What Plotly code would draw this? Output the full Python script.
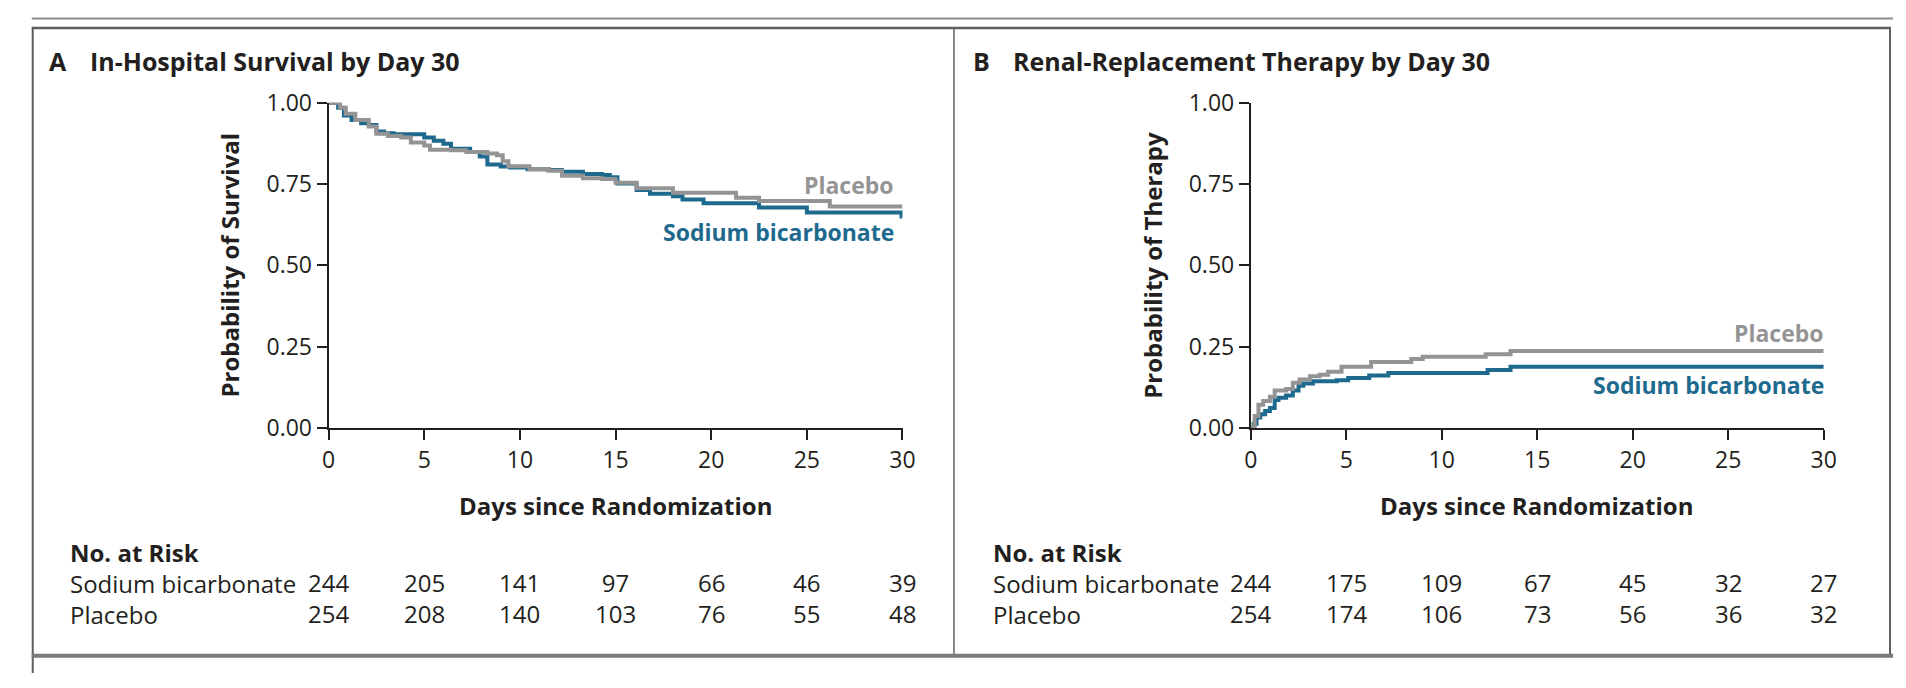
import plotly.graph_objects as go

W, H = 1906, 688

# ---- data ----
days_ticks = [0, 5, 10, 15, 20, 25, 30]
prob_ticks = [0.0, 0.25, 0.5, 0.75, 1.0]
prob_labels = ["0.00", "0.25", "0.50", "0.75", "1.00"]

# A: in-hospital survival
surv_bicarb_t = [0, 0.5, 0.8, 1.2, 1.7, 2.1, 2.5, 2.9, 3.4, 5.0, 5.5, 6.0, 6.4, 7.4, 7.9, 8.3,
                 9.0, 9.5, 10.4, 11.5, 12.2, 13.3, 14.3, 14.7, 15.1, 16.1, 16.8, 18.0, 18.5,
                 19.6, 22.5, 25.0, 29.95, 30]
surv_bicarb = [1.0, 0.985, 0.961, 0.947, 0.937, 0.932, 0.912, 0.906, 0.903, 0.893, 0.883, 0.874,
               0.859, 0.849, 0.835, 0.810, 0.804, 0.801, 0.796, 0.793, 0.788, 0.781, 0.778, 0.771,
               0.752, 0.732, 0.720, 0.713, 0.703, 0.691, 0.678, 0.663, 0.650, 0.650]
surv_placebo_t = [0, 0.6, 0.9, 1.4, 2.1, 2.5, 3.1, 3.8, 4.3, 5.0, 5.3, 6.4, 7.2, 8.3, 8.8, 9.1,
                  9.4, 10.5, 11.5, 12.2, 13.3, 14.3, 15.0, 16.1, 18.0, 21.3, 22.5, 26.2, 30]
surv_placebo = [1.0, 0.985, 0.966, 0.947, 0.927, 0.905, 0.898, 0.893, 0.878, 0.869, 0.856, 0.854,
                0.849, 0.844, 0.839, 0.820, 0.805, 0.796, 0.791, 0.776, 0.768, 0.766, 0.754, 0.737,
                0.723, 0.708, 0.698, 0.681, 0.681]

# B: renal-replacement therapy
rrt_bicarb_t = [0, 0.15, 0.3, 0.5, 0.75, 1.0, 1.25, 1.45, 1.85, 2.2, 2.5, 2.75, 3.25, 4.5, 5.1,
                6.2, 7.2, 12.4, 13.6, 30]
rrt_bicarb = [0.0, 0.013, 0.032, 0.042, 0.052, 0.061, 0.086, 0.093, 0.100, 0.115, 0.130, 0.137,
              0.144, 0.147, 0.154, 0.161, 0.169, 0.178, 0.188, 0.188]
rrt_placebo_t = [0, 0.2, 0.4, 0.65, 1.0, 1.25, 1.85, 2.2, 2.55, 3.1, 3.6, 4.05, 4.75, 6.3, 8.4,
                 9.0, 12.3, 13.6, 30]
rrt_placebo = [0.0, 0.037, 0.071, 0.083, 0.096, 0.115, 0.120, 0.139, 0.149, 0.159, 0.164, 0.173,
               0.188, 0.203, 0.212, 0.219, 0.227, 0.237, 0.237]

# numbers at risk
risk_a_bicarb = [244, 205, 141, 97, 66, 46, 39]
risk_a_placebo = [254, 208, 140, 103, 76, 55, 48]
risk_b_bicarb = [244, 175, 109, 67, 45, 32, 27]
risk_b_placebo = [254, 174, 106, 73, 56, 36, 32]

BLUE = "#1e6a8e"
GRAY = "#949494"
INK = "#231f20"
FONT = "Open Sans"


def fx(p):
    return p / W


def fy(p):
    return 1 - p / H


fig = go.Figure()

panels = [
    ("x", "y", surv_bicarb_t, surv_bicarb, surv_placebo_t, surv_placebo),
    ("x2", "y2", rrt_bicarb_t, rrt_bicarb, rrt_placebo_t, rrt_placebo),
]
for xa, ya, bt, bv, pt, pv in panels:
    fig.add_trace(go.Scatter(x=bt, y=bv, xaxis=xa, yaxis=ya, mode="lines", cliponaxis=False,
                             line=dict(shape="hv", color=BLUE, width=4), hoverinfo="skip"))
    fig.add_trace(go.Scatter(x=pt, y=pv, xaxis=xa, yaxis=ya, mode="lines", cliponaxis=False,
                             line=dict(shape="hv", color=GRAY, width=4), hoverinfo="skip"))

xstyle = dict(range=[0, 30], tickvals=days_ticks, ticks="outside", ticklen=10, tickwidth=2,
              tickcolor=INK, showline=True, linecolor=INK, linewidth=2, showgrid=False,
              zeroline=False, tickfont=dict(family=FONT, size=23, color=INK),
              ticklabelstandoff=0)
ystyle = dict(range=[0, 1], tickvals=prob_ticks, ticktext=prob_labels, ticks="outside",
              ticklen=10, tickwidth=2, tickcolor=INK, showline=True, linecolor=INK,
              linewidth=2, showgrid=False, zeroline=False,
              tickfont=dict(family=FONT, size=23, color=INK), domain=[fy(431), fy(90)])

fig.update_layout(
    width=W, height=H, autosize=False,
    margin=dict(l=0, r=0, t=0, b=0),
    paper_bgcolor="white", plot_bgcolor="white", showlegend=False,
    xaxis=dict(xstyle, domain=[fx(325), fx(905)], anchor="y"),
    yaxis=dict(ystyle, anchor="x"),
    xaxis2=dict(xstyle, domain=[fx(1257), fx(1836)], anchor="y2"),
    yaxis2=dict(ystyle, anchor="x2"),
)

ann = []


def text(x, y, s, size, bold=False, color=INK, xanchor="left", xref="paper", angle=0):
    ann.append(dict(x=x, y=y, xref=xref, yref="paper", text=f"<b>{s}</b>" if bold else s,
                    showarrow=False, xanchor=xanchor, yanchor="middle", textangle=angle,
                    align=xanchor if xanchor != "center" else "center",
                    font=dict(family=FONT, size=size, color=color)))


# panel titles
text(fx(40), fy(46), "A", 25, bold=True)
text(fx(82), fy(46), "In-Hospital Survival by Day 30", 25, bold=True)
text(fx(974), fy(46), "B", 25, bold=True)
text(fx(1015), fy(46), "Renal-Replacement Therapy by Day 30", 25, bold=True)

# y axis titles
text(fx(225), fy(260), "Probability of Survival", 24, bold=True, xanchor="center", angle=-90)
text(fx(1158), fy(260), "Probability of Therapy", 24, bold=True, xanchor="center", angle=-90)

# x axis titles
text(fx(615), fy(512), "Days since Randomization", 24, bold=True, xanchor="center")
text(fx(1546), fy(512), "Days since Randomization", 24, bold=True, xanchor="center")

# curve labels
text(fx(898), fy(176), "Placebo", 23, bold=True, color=GRAY, xanchor="right")
text(fx(898), fy(226), "Sodium bicarbonate", 23, bold=True, color=BLUE, xanchor="right")
text(fx(1838), fy(331), "Placebo", 23, bold=True, color=GRAY, xanchor="right")
text(fx(1838), fy(386), "Sodium bicarbonate", 23, bold=True, color=BLUE, xanchor="right")

# numbers at risk
for xref, left, rb, rp in [("x", 62, risk_a_bicarb, risk_a_placebo),
                           ("x2", 994, risk_b_bicarb, risk_b_placebo)]:
    text(fx(left), fy(594), "<b>No. at Risk</b><br>Sodium bicarbonate<br>Placebo", 24)
    for d, a, b in zip(days_ticks, rb, rp):
        text(d, fy(609.5), f"{a}<br>{b}", 24, xanchor="center", xref=xref)

fig.update_layout(annotations=ann)

# frame lines
BOX = "#5e5e5e"
shapes = [
    dict(x0=25, x1=W, y0=1.5, y1=1.5, color="#8c8c8c", width=2),
    dict(x0=25, x1=1904, y0=11.5, y1=11.5, color=BOX, width=2.5),
    dict(x0=26, x1=26, y0=11, y1=H, color=BOX, width=2),
    dict(x0=1903, x1=1903, y0=11, y1=670, color=BOX, width=2),
    dict(x0=957, x1=957, y0=11, y1=670, color=BOX, width=1.5),
    dict(x0=25, x1=W, y0=670, y1=670, color="#7a7a7a", width=4),
]
for s in shapes:
    fig.add_shape(type="line", xref="paper", yref="paper", x0=fx(s["x0"]), x1=fx(s["x1"]),
                  y0=fy(s["y0"]), y1=fy(s["y1"]), line=dict(color=s["color"], width=s["width"]))

fig.write_html("out.html", config={"displayModeBar": False},
               post_script="document.body.style.margin='0';"
                           "document.body.style.overflow='hidden';")
